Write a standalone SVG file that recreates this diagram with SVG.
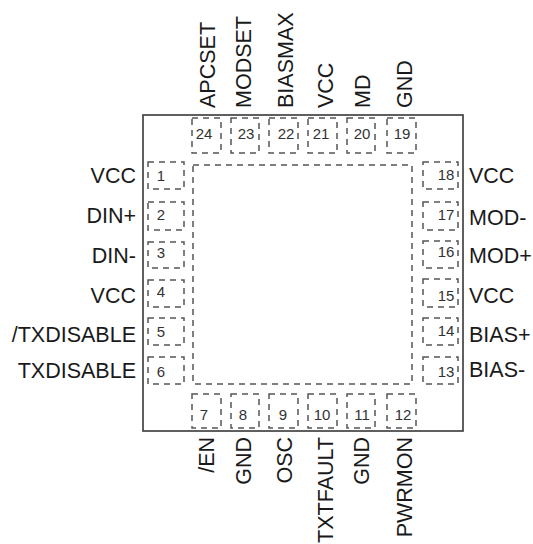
<svg xmlns="http://www.w3.org/2000/svg" width="533" height="544" viewBox="0 0 533 544">
<style>
text{font-family:"Liberation Sans",Arial,sans-serif;fill:#1a1a1a}
.l{font-size:21.5px}
.n{font-size:15px;text-anchor:middle;fill:#333}
.p,.core{fill:none;stroke:#555;stroke-width:1.5;stroke-dasharray:6 5}
.pkg{fill:none;stroke:#444;stroke-width:1.7}
.e{text-anchor:end}
</style>
<rect width="533" height="544" fill="#fff"/>
<g id="package"><rect class="pkg" x="143" y="115" width="320" height="316"/></g>
<g id="core"><rect class="core" x="193" y="165" width="219" height="219"/></g>
<g id="pin1"><rect class="p" x="148" y="162" width="36" height="27"/><text class="n" x="161" y="181">1</text><text class="l e" x="136" y="183">VCC</text></g>
<g id="pin2"><rect class="p" x="148" y="202" width="36" height="28"/><text class="n" x="161" y="220">2</text><text class="l e" x="136" y="223">DIN+</text></g>
<g id="pin3"><rect class="p" x="148" y="242" width="36" height="26"/><text class="n" x="161" y="258">3</text><text class="l e" x="136" y="263">DIN-</text></g>
<g id="pin4"><rect class="p" x="148" y="280" width="36" height="27"/><text class="n" x="161" y="297">4</text><text class="l e" x="136" y="303">VCC</text></g>
<g id="pin5"><rect class="p" x="148" y="318" width="36" height="27"/><text class="n" x="161" y="337">5</text><text class="l e" x="136" y="342">/TXDISABLE</text></g>
<g id="pin6"><rect class="p" x="148" y="357" width="36" height="27"/><text class="n" x="161" y="377">6</text><text class="l e" x="136" y="378">TXDISABLE</text></g>
<g id="pin7"><rect class="p" x="192" y="394" width="29" height="34"/><text class="n" x="204" y="420">7</text><text class="l e" transform="translate(214 437) rotate(-90)">/EN</text></g>
<g id="pin8"><rect class="p" x="231" y="394" width="28" height="34"/><text class="n" x="243" y="420">8</text><text class="l e" transform="translate(251 437) rotate(-90)">GND</text></g>
<g id="pin9"><rect class="p" x="269" y="394" width="29" height="34"/><text class="n" x="283" y="420">9</text><text class="l e" transform="translate(292 437) rotate(-90)">OSC</text></g>
<g id="pin10"><rect class="p" x="308" y="394" width="29" height="34"/><text class="n" x="322" y="420">10</text><text class="l e" transform="translate(333 437) rotate(-90)">TXTFAULT</text></g>
<g id="pin11"><rect class="p" x="347" y="394" width="28" height="34"/><text class="n" x="362" y="420">11</text><text class="l e" transform="translate(369 437) rotate(-90)">GND</text></g>
<g id="pin12"><rect class="p" x="387" y="394" width="29" height="34"/><text class="n" x="403" y="420">12</text><text class="l e" transform="translate(412 437) rotate(-90)">PWRMON</text></g>
<g id="pin13"><rect class="p" x="423" y="357" width="35" height="27"/><text class="n" x="446" y="377">13</text><text class="l" x="469" y="377">BIAS-</text></g>
<g id="pin14"><rect class="p" x="423" y="318" width="35" height="27"/><text class="n" x="446" y="336">14</text><text class="l" x="469" y="342">BIAS+</text></g>
<g id="pin15"><rect class="p" x="423" y="279" width="35" height="28"/><text class="n" x="446" y="301">15</text><text class="l" x="469" y="303">VCC</text></g>
<g id="pin16"><rect class="p" x="423" y="241" width="35" height="27"/><text class="n" x="446" y="257">16</text><text class="l" x="469" y="263">MOD+</text></g>
<g id="pin17"><rect class="p" x="423" y="202" width="35" height="28"/><text class="n" x="446" y="220">17</text><text class="l" x="469" y="225">MOD-</text></g>
<g id="pin18"><rect class="p" x="423" y="162" width="35" height="27"/><text class="n" x="446" y="180">18</text><text class="l" x="469" y="183">VCC</text></g>
<g id="pin19"><rect class="p" x="387" y="118" width="29" height="35"/><text class="n" x="402" y="139">19</text><text class="l" transform="translate(412 108) rotate(-90)">GND</text></g>
<g id="pin20"><rect class="p" x="347" y="118" width="28" height="35"/><text class="n" x="362" y="139">20</text><text class="l" transform="translate(370 108) rotate(-90)">MD</text></g>
<g id="pin21"><rect class="p" x="308" y="118" width="29" height="35"/><text class="n" x="321" y="139">21</text><text class="l" transform="translate(333 108) rotate(-90)">VCC</text></g>
<g id="pin22"><rect class="p" x="269" y="118" width="29" height="35"/><text class="n" x="286" y="139">22</text><text class="l" transform="translate(293 108) rotate(-90)">BIASMAX</text></g>
<g id="pin23"><rect class="p" x="231" y="118" width="28" height="35"/><text class="n" x="246" y="139">23</text><text class="l" transform="translate(251 108) rotate(-90)">MODSET</text></g>
<g id="pin24"><rect class="p" x="192" y="118" width="29" height="35"/><text class="n" x="204" y="139">24</text><text class="l" transform="translate(215 108) rotate(-90)">APCSET</text></g>
<g id="connectors"></g>
</svg>
